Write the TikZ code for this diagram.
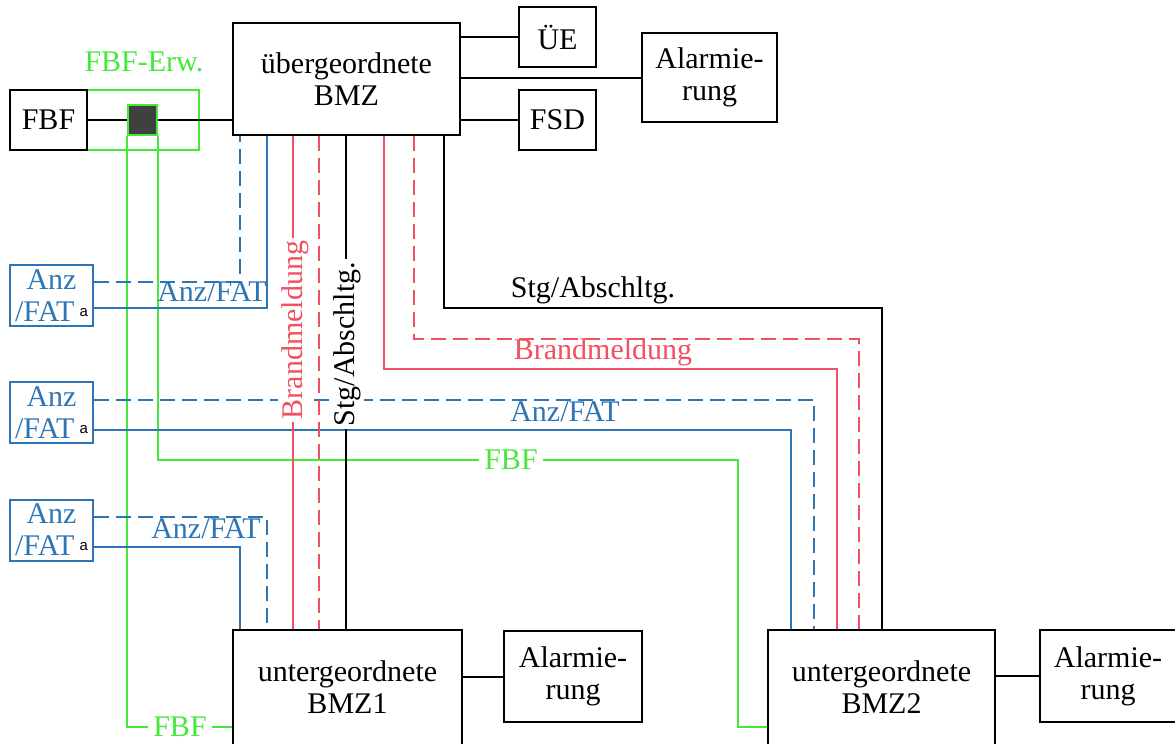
\documentclass[tikz,border=0pt]{standalone}
\usepackage{fontspec}
\setmainfont{Liberation Serif}
\newfontfamily\supfont{Liberation Sans}
\definecolor{cblue}{RGB}{46,117,182}
\definecolor{cred}{RGB}{240,80,95}
\definecolor{cgreen}{RGB}{70,232,60}
\definecolor{cdark}{RGB}{64,64,64}
\newcommand\mainsz{\fontsize{30}{32}\selectfont}
\newcommand\supa{\raisebox{5pt}{\color{black}\supfont\fontsize{15}{15}\selectfont a}}
\begin{document}
\begin{tikzpicture}[x=1pt,y=-1pt,line width=2pt,
  box/.style={draw=black,fill=white,inner sep=0pt,align=center,font=\mainsz},
  anzbox/.style={draw=cblue,fill=white,inner sep=0pt,align=center,font=\mainsz,text=cblue,minimum width=83pt,minimum height=61pt},
  lbl/.style={font=\mainsz,inner sep=1pt},
  cutlbl/.style={font=\mainsz,fill=white,inner sep=5pt},
  blueline/.style={draw=cblue},
  bluedash/.style={draw=cblue,dash pattern=on 15pt off 7pt},
  redline/.style={draw=cred},
  reddash/.style={draw=cred,dash pattern=on 15pt off 7pt},
  greenline/.style={draw=cgreen},
  blackline/.style={draw=black}]
\useasboundingbox (0,0) rectangle (1175,744);
% helper coordinates
\coordinate (XA) at (240,0); \coordinate (XB) at (267,0);
\coordinate (XC) at (293,0); \coordinate (XD) at (319,0);
\coordinate (XE) at (346,0); \coordinate (XF) at (384,0);
\coordinate (XG) at (414,0); \coordinate (XH) at (444,0);
\coordinate (XP) at (791,0); \coordinate (XQ) at (814,0);
\coordinate (XR) at (837,0); \coordinate (XS) at (859,0);
\coordinate (XT) at (882,0); \coordinate (XGT) at (738,0);
\coordinate (Y1) at (0,282); \coordinate (Y2) at (0,308);
\coordinate (Y3) at (0,400); \coordinate (Y4) at (0,430);
\coordinate (Y5) at (0,517); \coordinate (Y6) at (0,547);
\coordinate (YK) at (0,308); \coordinate (YRD) at (0,339);
\coordinate (YRS) at (0,369); \coordinate (YG) at (0,460);
\coordinate (YB) at (0,727);

% nodes
\node[box,minimum width=227pt,minimum height=112pt] (bmz) at (346.5,79) {übergeordnete\\BMZ};
\node[box,minimum width=77pt,minimum height=60pt] (ue) at (557.5,37) {ÜE};
\node[box,minimum width=77pt,minimum height=60pt] (fsd) at (557.5,120) {FSD};
\node[box,minimum width=135pt,minimum height=89pt] (al0) at (709.5,77.5) {Alarmie-\\rung};
\node[draw=cgreen,minimum width=112pt,minimum height=60pt,inner sep=0pt] (erw) at (143,120) {};
\node[box,minimum width=77pt,minimum height=60pt] (fbf) at (48.5,120) {FBF};
\node[lbl,text=cgreen] (erwlbl) at (144,62) {FBF-Erw.};
\node[anzbox] (anz1) at (51.5,295.5) {Anz\\/FAT\,\supa};
\node[anzbox] (anz2) at (51.5,412.5) {Anz\\/FAT\,\supa};
\node[anzbox] (anz3) at (51.5,530) {Anz\\/FAT\,\supa};
\node[box,minimum width=229pt,minimum height=115pt] (bmz1) at (347.5,687.5) {untergeordnete\\BMZ1};
\node[box,minimum width=138pt,minimum height=91pt] (al1) at (573,676.5) {Alarmie-\\rung};
\node[box,minimum width=227pt,minimum height=115pt] (bmz2) at (881.5,687.5) {untergeordnete\\BMZ2};
\node[box,minimum width=136pt,minimum height=92pt] (al2) at (1108,676) {Alarmie-\\rung};

% black connectors top
\draw[blackline] (fbf.east) -- (fbf.east -| bmz.west);
\draw[blackline] (bmz.east |- ue.west) -- (ue.west);
\draw[blackline] (bmz.east |- al0.west) -- (al0.west);
\draw[blackline] (bmz.east |- fsd.west) -- (fsd.west);
\draw[blackline] (bmz1.east |- al1.west) -- (al1.west);
\draw[blackline] (bmz2.east |- al2.west) -- (al2.west);

% square
\node[draw=cgreen,fill=cdark,minimum width=29pt,minimum height=30pt,inner sep=0pt] (sq) at (142.5,120) {};

% green lines
\draw[greenline] (sq.south west) -- (sq.south west |- YB) -- (bmz1.west |- YB);
\draw[greenline] (sq.south east) -- (sq.south east |- YG) -- (XGT |- YG) -- (XGT |- YB) -- (bmz2.west |- YB);
\node[cutlbl,text=cgreen] (fbfl1) at (180,727) {FBF};
\node[cutlbl,text=cgreen] (fbfl2) at (511,460) {FBF};

% blue lines
\draw[bluedash] (anz1.east |- Y1) -| (bmz.south -| XA);
\draw[blueline] (anz1.east |- Y2) -| (bmz.south -| XB);
\draw[bluedash] (anz2.east |- Y3) -| (bmz2.north -| XQ);
\draw[blueline] (anz2.east |- Y4) -| (bmz2.north -| XP);
\draw[bluedash] (anz3.east |- Y5) -| (bmz1.north -| XB);
\draw[blueline] (anz3.east |- Y6) -| (bmz1.north -| XA);
\node[lbl,text=cblue] (la1) at (212,292) {Anz/FAT};
\node[lbl,text=cblue] (la2) at (565,412) {Anz/FAT};
\node[lbl,text=cblue] (la3) at (206,529) {Anz/FAT};

% red / black verticals to BMZ1
\draw[redline] (bmz.south -| XC) -- (bmz1.north -| XC);
\draw[reddash] (bmz.south -| XD) -- (bmz1.north -| XD);
\draw[blackline] (bmz.south -| XE) -- (bmz1.north -| XE);
\node[cutlbl,text=cred,rotate=90,inner sep=3pt] (lbv) at (295,330) {Brandmeldung};
\node[cutlbl,text=black,rotate=90,inner sep=3pt] (lsv) at (347,344) {Stg/Abschltg.};

% lines to BMZ2
\draw[redline] (bmz.south -| XF) -- (XF |- YRS) -| (bmz2.north -| XR);
\draw[reddash] (bmz.south -| XG) -- (XG |- YRD) -| (bmz2.north -| XS);
\draw[blackline] (bmz.south -| XH) -- (XH |- YK) -| (bmz2.north -| XT);
\node[lbl,text=cred] (lbh) at (603,352) {Brandmeldung};
\node[lbl,text=black] (lsh) at (593,290) {Stg/Abschltg.};
\end{tikzpicture}
\end{document}
